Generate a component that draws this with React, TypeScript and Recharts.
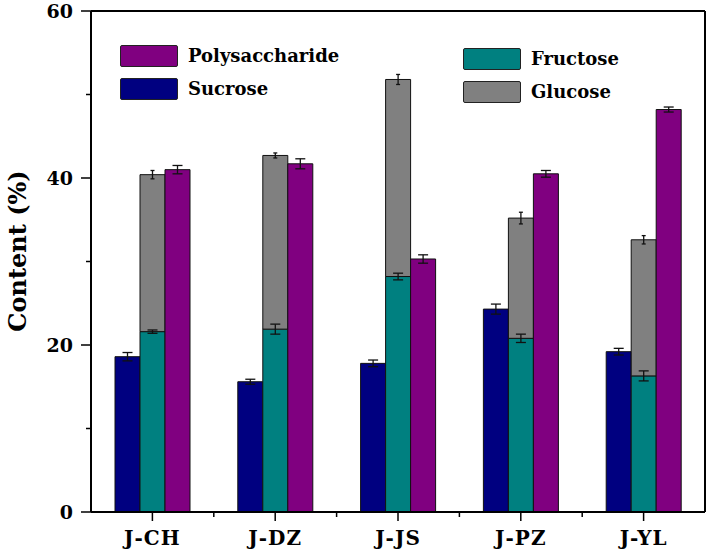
import React from 'react';
import { BarChart, Bar, XAxis, YAxis, ErrorBar, Legend } from 'recharts';

const categories = ['J-CH', 'J-DZ', 'J-JS', 'J-PZ', 'J-YL'];
const sucrose = [18.6, 15.6, 17.8, 24.3, 19.2];
const sucroseErr = [0.5, 0.3, 0.4, 0.6, 0.4];
const fructose = [21.6, 21.9, 28.2, 20.8, 16.3];
const fructoseErr = [0.2, 0.6, 0.4, 0.5, 0.6];
const glucose = [18.8, 20.8, 23.6, 14.4, 16.3];
const glucoseErr = [0.5, 0.3, 0.6, 0.7, 0.5];
const polysaccharide = [41.0, 41.7, 30.3, 40.5, 48.2];
const polysaccharideErr = [0.5, 0.6, 0.5, 0.4, 0.3];
const yTicks = [0, 10, 20, 30, 40, 50, 60];
const yLabelTicks = [0, 20, 40, 60];

const data = categories.map((c, i) => ({
  name: c,
  sucrose: sucrose[i],
  sucroseErr: sucroseErr[i],
  fructose: fructose[i],
  fructoseErr: fructoseErr[i],
  glucose: glucose[i],
  glucoseErr: glucoseErr[i],
  polysaccharide: polysaccharide[i],
  polysaccharideErr: polysaccharideErr[i],
}));

const FONT = '"DejaVu Serif", serif';

const YTick = (props: any) => {
  const { x, y, payload } = props;
  const major = yLabelTicks.includes(payload.value);
  return (
    <g>
      <line x1={x - (major ? 10 : 5)} x2={x} y1={y} y2={y} stroke="#000" strokeWidth={1.5} />
      {major && (
        <text x={x - 18} y={y} dy="0.36em" textAnchor="end" fontFamily={FONT} fontWeight="bold" fontSize={19} fill="#000">
          {payload.value}
        </text>
      )}
    </g>
  );
};

const XTick = (props: any) => {
  const { x, y, payload, index } = props;
  const half = 61.4;
  return (
    <g>
      <line x1={x} x2={x} y1={y} y2={y + 9} stroke="#000" strokeWidth={1.5} />
      {index < categories.length - 1 && (
        <line x1={x + half} x2={x + half} y1={y} y2={y + 5} stroke="#000" strokeWidth={1.5} />
      )}
      <text x={x} y={y + 33} textAnchor="middle" fontFamily={FONT} fontWeight="bold" fontSize={20} letterSpacing={1} fill="#000">
        {payload.value}
      </text>
    </g>
  );
};

const legendPos: Record<string, { x: number; y: number }> = {
  Polysaccharide: { x: 120, y: 45 },
  Sucrose: { x: 120, y: 78 },
  Fructose: { x: 463, y: 48 },
  Glucose: { x: 463, y: 81 },
};

const LegendContent = (props: any) => {
  const { payload } = props;
  return (
    <div style={{ position: 'relative', width: 0, height: 0, overflow: 'visible' }}>
      {(payload || []).map((p: any) => {
        const pos = legendPos[p.value];
        if (!pos) return null;
        return (
          <div key={p.value} style={{ position: 'absolute', left: pos.x, top: pos.y, display: 'flex', alignItems: 'center', whiteSpace: 'nowrap' }}>
            <div style={{ width: 56, height: 20, background: p.color, border: '1.5px solid #222', borderRadius: 2 }} />
            <span style={{ marginLeft: 10, fontFamily: FONT, fontWeight: 'bold', fontSize: 18, color: '#000', lineHeight: '22px' }}>
              {p.value}
            </span>
          </div>
        );
      })}
    </div>
  );
};

export default function App() {
  return (
    <div style={{ position: 'absolute', left: 0, top: 0, background: '#fff' }}>
      <BarChart
        width={709}
        height={551}
        data={data}
        margin={{ top: 10, right: 3, bottom: 0, left: 0 }}
        barSize={25}
        barGap={0}
      >
        <XAxis
          dataKey="name"
          height={39}
          tickSize={0}
          tickMargin={0}
          tickLine={false}
          tick={<XTick />}
          axisLine={{ stroke: '#000', strokeWidth: 2 }}
          interval={0}
        />
        <XAxis xAxisId="top" orientation="top" dataKey="name" height={1} tick={false} tickLine={false} axisLine={{ stroke: '#000', strokeWidth: 2 }} />
        <YAxis
          width={91}
          domain={[0, 60]}
          ticks={yTicks}
          tickSize={0}
          tickMargin={0}
          tickLine={false}
          tick={<YTick />}
          axisLine={{ stroke: '#000', strokeWidth: 2 }}
          interval={0}
          label={{
            content: () => (
              <text x={26} y={251} transform="rotate(-90 26 251)" textAnchor="middle" fontFamily={FONT} fontWeight="bold" fontSize={24} fill="#000">
                Content (%)
              </text>
            ),
          }}
        />
        <YAxis yAxisId="right" orientation="right" width={1} domain={[0, 60]} tick={false} tickLine={false} axisLine={{ stroke: '#000', strokeWidth: 2 }} />
        <Legend
          content={<LegendContent />}
          verticalAlign="top"
          align="left"
          height={0}
          wrapperStyle={{ position: 'absolute', left: 0, top: 0, width: 0, height: 0, overflow: 'visible' }}
        />
        <Bar dataKey="sucrose" name="Sucrose" stackId="a" fill="#000080" stroke="#111" strokeWidth={1} isAnimationActive={false}>
          <ErrorBar dataKey="sucroseErr" width={5} stroke="#111" strokeWidth={1.3} />
        </Bar>
        <Bar dataKey="fructose" name="Fructose" stackId="b" fill="#008080" stroke="#111" strokeWidth={1} isAnimationActive={false}>
          <ErrorBar dataKey="fructoseErr" width={5} stroke="#111" strokeWidth={1.3} />
        </Bar>
        <Bar dataKey="glucose" name="Glucose" stackId="b" fill="#808080" stroke="#111" strokeWidth={1} isAnimationActive={false}>
          <ErrorBar dataKey="glucoseErr" width={2} stroke="#111" strokeWidth={1.3} />
        </Bar>
        <Bar dataKey="polysaccharide" name="Polysaccharide" stackId="c" fill="#800080" stroke="#111" strokeWidth={1} isAnimationActive={false}>
          <ErrorBar dataKey="polysaccharideErr" width={5} stroke="#111" strokeWidth={1.3} />
        </Bar>
      </BarChart>
    </div>
  );
}
